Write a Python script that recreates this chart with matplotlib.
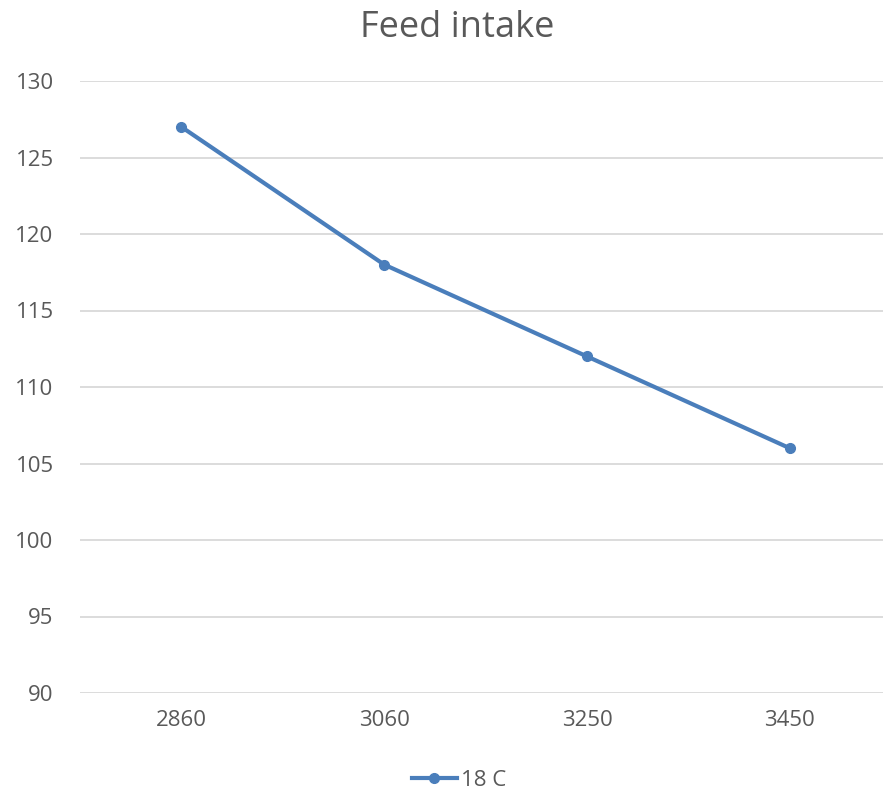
import matplotlib.pyplot as plt
from matplotlib.lines import Line2D

# Feed intake data
categories = ["2860", "3060", "3250", "3450"]
intake_18c = [127, 118, 112, 106]
y_ticks = [90, 95, 100, 105, 110, 115, 120, 125, 130]

plt.rcParams["font.family"] = ["Open Sans", "DejaVu Sans"]
text_color = "#595959"
line_color = "#4A7EBB"

fig = plt.figure(figsize=(8.83, 7.95), dpi=100)
ax = fig.add_axes([80 / 883, 102 / 795, 1 - 80 / 883, 612 / 795])

x = list(range(len(categories)))
ax.plot(x, intake_18c, color=line_color, linewidth=3, marker="o",
        markersize=7, solid_capstyle="round", zorder=3)

ax.set_xlim(-0.5, 3.46)
ax.set_ylim(90, 130)
ax.set_yticks(y_ticks)
ax.set_xticks(x)
ax.set_xticklabels(categories)
ax.grid(axis="y", color="#D9D9D9", linewidth=1.3)
ax.set_axisbelow(True)
for s in ax.spines.values():
    s.set_visible(False)
ax.tick_params(length=0, labelsize=16, colors=text_color)
ax.tick_params(axis="x", pad=12)
ax.tick_params(axis="y", pad=19)

fig.text(0.518, 0.965, "Feed intake", ha="center", va="center",
         fontsize=26, color=text_color)

handle = Line2D([], [], color=line_color, linewidth=3, marker="o", markersize=7)
fig.legend([handle], ["18 C"], loc="center", bbox_to_anchor=(0.52, 0.018),
           frameon=False, fontsize=16, labelcolor=text_color,
           handlelength=2.0, handletextpad=0.2)

fig.savefig("out.png", dpi=100)
